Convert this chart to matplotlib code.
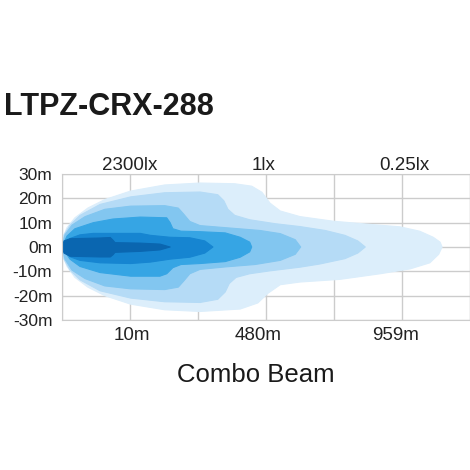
import matplotlib
matplotlib.use("Agg")
import matplotlib.pyplot as plt
from matplotlib.transforms import blended_transform_factory

plt.rcParams['font.family'] = ['Liberation Sans', 'DejaVu Sans']

# 数据：光型等照度区域轮廓（x 为网格单位，y 为米）
beam1_x = [0, 0.015, 0.074, 0.19, 0.38, 0.63, 1.01, 1.51, 2.03, 2.54, 2.79, 2.94, 3.06, 3.21, 3.5, 3.99, 4.53, 4.97, 5.26, 5.46, 5.56, 5.59,
           5.54, 5.41, 5.12, 4.68, 4.09, 3.5, 3.21, 3.03, 2.88, 2.62, 2.03, 1.51, 1.01, 0.63, 0.38, 0.19, 0.074, 0.015]
beam1_y = [0, 4, 8, 12, 16, 19.5, 23, 25.5, 26.3, 26, 25, 22.5, 18, 14.8, 12.5, 10.6, 9.3, 8.3, 6.5, 4, 2, 0,
           -3, -6.5, -9, -11, -13.3, -14.4, -15.5, -19, -23, -25.5, -26.5, -25.8, -23.5, -20, -16.5, -12.5, -8, -4]

beam2_x = [0, 0.03, 0.118, 0.265, 0.56, 1.01, 1.51, 2.03, 2.29, 2.38, 2.44, 2.54, 2.76, 3.13, 3.5, 3.87, 4.16, 4.35, 4.46,
           4.35, 4.16, 3.79, 3.5, 3.06, 2.76, 2.56, 2.46, 2.40, 2.29, 2.03, 1.51, 1.01, 0.56, 0.265, 0.118, 0.03]
beam2_y = [0, 5, 9, 13, 17.5, 20.6, 22.3, 22.6, 21.5, 19, 15.5, 13, 11.2, 9.6, 8.4, 6.8, 4.8, 2.5, 0,
           -2.5, -4.8, -7, -8.3, -9.8, -11, -12.5, -15, -18.5, -21.5, -22.8, -22.5, -21, -18, -13.5, -9.5, -5]

beam3_x = [0, 0.044, 0.147, 0.34, 0.63, 1.01, 1.51, 1.71, 1.79, 1.88, 2.03, 2.47, 2.91, 3.21, 3.43, 3.51,
           3.43, 3.21, 2.84, 2.40, 2.03, 1.88, 1.79, 1.71, 1.51, 1.01, 0.63, 0.34, 0.147, 0.044]
beam3_y = [0, 5, 9, 12.5, 15.5, 16.8, 17, 16, 13.5, 10.5, 8.8, 7.8, 6.8, 5.5, 3, 0,
           -3, -5.5, -7.2, -8.2, -9.2, -11, -14, -16.5, -17.5, -17.2, -16, -13, -9.5, -5]

beam4_x = [0, 0.074, 0.19, 0.46, 0.75, 1.15, 1.54, 1.59, 1.63, 1.75, 2.03, 2.4, 2.62, 2.76, 2.79,
           2.76, 2.62, 2.4, 2.03, 1.75, 1.63, 1.54, 1.44, 1.01, 0.56, 0.265, 0.118]
beam4_y = [0, 4.5, 7.5, 10, 11.5, 12.3, 12, 10, 7.5, 6.5, 6.3, 5.8, 4, 2, 0,
           -2, -4.2, -6, -6.8, -7.2, -8.5, -11, -12, -12, -10.5, -8, -5]

beam5_x = [0, 0.118, 0.265, 0.46, 1.15, 1.3, 1.59, 1.88, 2.1, 2.22,
           2.1, 1.88, 1.59, 1.3, 1.01, 0.56, 0.265, 0.118]
beam5_y = [0, 3.5, 5, 5.6, 5.6, 4.8, 4, 3.8, 2.5, 0,
           -2.5, -4.2, -5, -6.2, -6.8, -6.5, -5.5, -4]

beam6_x = [0, 0.03, 0.118, 0.56, 0.71, 0.75, 0.78, 1.15, 1.44, 1.59,
           1.44, 1.15, 0.78, 0.75, 0.71, 0.56, 0.118, 0.03]
beam6_y = [0, 2.5, 3.4, 3.7, 3.9, 2.8, 1.8, 1.6, 1.2, 0,
           -1.2, -1.8, -2.2, -3.2, -4.1, -4.1, -3.8, -2.5]

layers = [(beam1_x, beam1_y, '#dceefb'),
          (beam2_x, beam2_y, '#b5dbf6'),
          (beam3_x, beam3_y, '#82c6f0'),
          (beam4_x, beam4_y, '#36a5e4'),
          (beam5_x, beam5_y, '#1685d1'),
          (beam6_x, beam6_y, '#0a66b0')]

y_ticks = [30, 20, 10, 0, -10, -20, -30]
y_labels = ['30m', '20m', '10m', '0m', '-10m', '-20m', '-30m']
dist_pos = [1.03, 2.88, 4.9]
dist_labels = ['10m', '480m', '959m']
lux_pos = [0.99, 2.97, 5.03]
lux_labels = ['2300lx', '1lx', '0.25lx']

W = 470
fig = plt.figure(figsize=(4.7, 4.7), dpi=100)
ax = fig.add_axes([62 / W, 150 / W, 408 / W, 146 / W])

for xs, ys, c in layers:
    ax.fill(xs, ys, color=c, linewidth=0.8, edgecolor=c, joinstyle='round', zorder=2)

ax.set_xlim(0, 6)
ax.set_ylim(-30, 30)

# 网格
ax.set_xticks(range(7), minor=True)
ax.set_yticks(y_ticks)
ax.set_yticklabels(y_labels, fontsize=12.5, color='#222222')
ax.set_xticks(dist_pos)
ax.set_xticklabels(dist_labels, fontsize=13.5, color='#222222')
ax.grid(True, which='minor', axis='x', color='#cccccc', linewidth=1, zorder=0)
ax.grid(True, which='major', axis='y', color='#cccccc', linewidth=1, zorder=0)
ax.tick_params(axis='both', which='both', length=0)
ax.tick_params(axis='y', pad=7)
ax.tick_params(axis='x', pad=5)
ax.set_axisbelow(True)
for s in ax.spines.values():
    s.set_color('#cccccc')

trans = blended_transform_factory(ax.transData, ax.transAxes)
for p, t in zip(lux_pos, lux_labels):
    ax.text(p, 1 + 4 / 146, t, transform=trans, ha='center', va='baseline',
            fontsize=13.5, color='#222222')

fig.text(4 / W, 1 - 115 / W, 'LTPZ-CRX-288', fontsize=22, fontweight='bold',
         ha='left', va='baseline', color='#1a1a1a')
fig.text(256 / W, 1 - 382 / W, 'Combo Beam', fontsize=18.5, ha='center',
         va='baseline', color='#1a1a1a')

fig.savefig('out.png', dpi=100, facecolor='white')
